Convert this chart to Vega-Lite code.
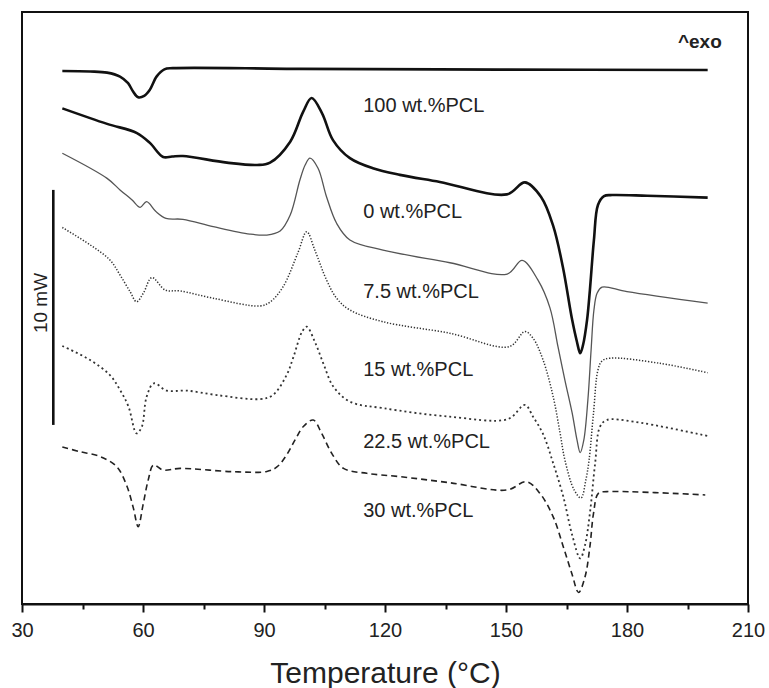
{
 "$schema": "https://vega.github.io/schema/vega-lite/v6.json",
 "width": 726, "height": 592,
 "autosize": {"type": "none"},
 "padding": {"left": 22, "top": 12, "right": 21, "bottom": 84},
 "background": "white",
 "config": {"view": {"stroke": "#111", "strokeWidth": 2}, "font": "Liberation Sans"},
 "datasets": {
  "c100": [{"T":40.0,"mW":22.68},{"T":46.9,"mW":22.66},{"T":51.1,"mW":22.61},{"T":54.3,"mW":22.44},{"T":56.3,"mW":22.16},{"T":57.5,"mW":21.82},{"T":58.8,"mW":21.56},{"T":60.3,"mW":21.62},{"T":61.7,"mW":21.88},{"T":63.4,"mW":22.45},{"T":65.3,"mW":22.75},{"T":67.4,"mW":22.80},{"T":98.9,"mW":22.77},{"T":148.5,"mW":22.74},{"T":200,"mW":22.72}],
  "c0": [{"T":40.0,"mW":21.09},{"T":51.1,"mW":20.43},{"T":58.5,"mW":20.04},{"T":61.7,"mW":19.62},{"T":65.0,"mW":19.02},{"T":67.2,"mW":19.04},{"T":69.9,"mW":19.06},{"T":80.8,"mW":18.78},{"T":88.3,"mW":18.68},{"T":91.5,"mW":18.78},{"T":96.5,"mW":19.67},{"T":99.7,"mW":20.94},{"T":101.8,"mW":21.53},{"T":104.4,"mW":20.88},{"T":107.1,"mW":19.74},{"T":111.3,"mW":18.97},{"T":117.0,"mW":18.54},{"T":123.7,"mW":18.26},{"T":133.6,"mW":17.96},{"T":150.2,"mW":17.43},{"T":154.7,"mW":17.94},{"T":158.7,"mW":17.32},{"T":161.7,"mW":16.09},{"T":164.1,"mW":14.34},{"T":166.4,"mW":12.09},{"T":167.6,"mW":11.15},{"T":168.4,"mW":10.67},{"T":169.1,"mW":11.02},{"T":170.1,"mW":12.09},{"T":170.8,"mW":13.36},{"T":171.8,"mW":15.49},{"T":172.8,"mW":16.98},{"T":174.3,"mW":17.36},{"T":176.3,"mW":17.40},{"T":185.0,"mW":17.37},{"T":200,"mW":17.29}],
  "c75": [{"T":40.0,"mW":19.18},{"T":51.1,"mW":18.11},{"T":54.3,"mW":17.62},{"T":57.3,"mW":17.19},{"T":59.3,"mW":16.88},{"T":60.9,"mW":17.12},{"T":63.2,"mW":16.70},{"T":65.7,"mW":16.41},{"T":69.9,"mW":16.37},{"T":77.4,"mW":16.06},{"T":86.5,"mW":15.74},{"T":90.7,"mW":15.70},{"T":94.0,"mW":15.87},{"T":96.5,"mW":16.55},{"T":98.9,"mW":18.04},{"T":100.2,"mW":18.68},{"T":101.4,"mW":18.97},{"T":103.4,"mW":18.54},{"T":105.5,"mW":17.33},{"T":108.0,"mW":16.20},{"T":111.3,"mW":15.49},{"T":119.5,"mW":15.06},{"T":136.1,"mW":14.52},{"T":150.3,"mW":14.04},{"T":154.0,"mW":14.62},{"T":157.9,"mW":13.79},{"T":160.9,"mW":12.60},{"T":162.9,"mW":10.94},{"T":164.6,"mW":9.53},{"T":166.4,"mW":8.13},{"T":167.6,"mW":6.98},{"T":168.4,"mW":6.44},{"T":169.3,"mW":6.98},{"T":170.3,"mW":8.68},{"T":171.1,"mW":10.81},{"T":171.8,"mW":12.51},{"T":172.6,"mW":13.23},{"T":173.8,"mW":13.48},{"T":180.0,"mW":13.29},{"T":200,"mW":12.80}],
  "c15": [{"T":40.0,"mW":16.02},{"T":46.9,"mW":15.28},{"T":51.8,"mW":14.64},{"T":54.3,"mW":14.00},{"T":56.8,"mW":13.29},{"T":58.4,"mW":12.86},{"T":60.1,"mW":13.23},{"T":62.2,"mW":13.89},{"T":65.5,"mW":13.36},{"T":69.2,"mW":13.32},{"T":77.4,"mW":13.01},{"T":89.0,"mW":12.68},{"T":91.5,"mW":12.85},{"T":94.7,"mW":13.49},{"T":98.4,"mW":14.94},{"T":100.6,"mW":15.84},{"T":102.6,"mW":15.06},{"T":105.5,"mW":13.79},{"T":108.0,"mW":13.01},{"T":111.3,"mW":12.51},{"T":119.5,"mW":12.01},{"T":136.1,"mW":11.52},{"T":150.8,"mW":10.95},{"T":154.7,"mW":11.59},{"T":156.7,"mW":11.31},{"T":159.2,"mW":10.38},{"T":161.7,"mW":8.82},{"T":163.4,"mW":7.28},{"T":164.6,"mW":6.13},{"T":166.9,"mW":4.85},{"T":168.6,"mW":4.51},{"T":169.8,"mW":5.28},{"T":170.6,"mW":6.13},{"T":171.7,"mW":8.13},{"T":172.8,"mW":9.96},{"T":173.8,"mW":10.34},{"T":175.8,"mW":10.46},{"T":188.2,"mW":10.24},{"T":200,"mW":9.84}],
  "c225": [{"T":40.0,"mW":10.98},{"T":46.9,"mW":10.38},{"T":51.8,"mW":9.74},{"T":54.3,"mW":9.11},{"T":56.4,"mW":8.40},{"T":58.4,"mW":7.26},{"T":59.7,"mW":7.54},{"T":60.9,"mW":8.82},{"T":62.7,"mW":9.39},{"T":65.9,"mW":9.08},{"T":70.8,"mW":9.08},{"T":78.3,"mW":8.89},{"T":89.0,"mW":8.72},{"T":92.2,"mW":8.89},{"T":95.6,"mW":9.74},{"T":97.3,"mW":10.51},{"T":99.4,"mW":11.57},{"T":100.6,"mW":11.80},{"T":102.6,"mW":11.16},{"T":104.7,"mW":10.24},{"T":107.2,"mW":9.25},{"T":111.3,"mW":8.61},{"T":119.6,"mW":8.33},{"T":136.1,"mW":7.97},{"T":150.5,"mW":7.87},{"T":154.7,"mW":8.47},{"T":156.7,"mW":7.97},{"T":159.2,"mW":7.23},{"T":161.7,"mW":5.99},{"T":164.2,"mW":4.57},{"T":166.4,"mW":2.94},{"T":168.4,"mW":1.94},{"T":169.6,"mW":2.51},{"T":170.8,"mW":3.86},{"T":172.1,"mW":5.99},{"T":173.3,"mW":7.54},{"T":175.0,"mW":7.83},{"T":181.6,"mW":7.76},{"T":200,"mW":7.15}],
  "c30": [{"T":40.0,"mW":6.68},{"T":44.4,"mW":6.48},{"T":49.3,"mW":6.28},{"T":53.5,"mW":5.84},{"T":56.0,"mW":5.02},{"T":57.6,"mW":4.09},{"T":58.8,"mW":3.29},{"T":60.0,"mW":4.21},{"T":61.3,"mW":5.28},{"T":62.6,"mW":5.91},{"T":65.0,"mW":5.70},{"T":69.2,"mW":5.77},{"T":82.3,"mW":5.63},{"T":90.7,"mW":5.64},{"T":93.2,"mW":5.83},{"T":95.6,"mW":6.34},{"T":97.7,"mW":6.98},{"T":99.7,"mW":7.54},{"T":102.2,"mW":7.83},{"T":104.3,"mW":7.26},{"T":106.8,"mW":6.41},{"T":109.7,"mW":5.77},{"T":115.5,"mW":5.56},{"T":123.7,"mW":5.42},{"T":136.1,"mW":5.16},{"T":150.2,"mW":4.85},{"T":155.1,"mW":5.20},{"T":158.4,"mW":4.71},{"T":161.7,"mW":3.71},{"T":164.2,"mW":2.44},{"T":166.3,"mW":1.31},{"T":168.0,"mW":0.49},{"T":169.6,"mW":1.16},{"T":170.8,"mW":2.44},{"T":171.7,"mW":3.86},{"T":172.9,"mW":4.71},{"T":175.0,"mW":4.78},{"T":199.4,"mW":4.64}],
  "labels": [{"T":114.6,"mW":20.95,"label":"100 wt.%PCL"},{"T":114.6,"mW":16.43,"label":"0 wt.%PCL"},{"T":114.6,"mW":13.03,"label":"7.5 wt.%PCL"},{"T":114.6,"mW":9.70,"label":"15 wt.%PCL"},{"T":114.6,"mW":6.64,"label":"22.5 wt.%PCL"},{"T":114.6,"mW":3.70,"label":"30 wt.%PCL"}],
  "bar": [{"T":37.76,"lo":7.62,"hi":17.62}],
  "barlabel": [{"T":36.1,"mW":12.81,"label":"10 mW"}],
  "exo": [{"T":203.5,"mW":23.66,"label":"^exo"}]
 },
 "resolve": {"axis": {"x": "independent"}},
 "layer": [
  {"data": {"name": "c100"}, "mark": {"type": "line", "interpolate": "catmull-rom", "color": "#111", "strokeWidth": 2.6},
   "encoding": {"x": {"field": "T", "type": "quantitative", "scale": {"domain": [30, 210], "nice": false, "zero": false},
     "axis": {"orient": "bottom", "values": [30, 60, 90, 120, 150, 180, 210], "title": "Temperature (°C)", "grid": false, "domain": true, "domainColor": "#111", "domainWidth": 2, "tickColor": "#111", "tickWidth": 2, "tickSize": 8, "labelFontSize": 20, "labelFont": "Liberation Sans", "labelColor": "#222", "labelPadding": 8, "labelFlush": false, "labelOverlap": false, "titleFont": "Liberation Sans", "titleFontSize": 30, "titleFontWeight": "normal", "titleColor": "#222", "titlePadding": 18}},
    "y": {"field": "mW", "type": "quantitative", "scale": {"domain": [0, 25.19], "nice": false, "zero": false}, "axis": null}}},
  {"data": {"name": "bar"}, "mark": {"type": "rule", "color": "#111", "strokeWidth": 2.6},
   "encoding": {"x": {"field": "T", "type": "quantitative", "scale": {"domain": [30, 210], "nice": false, "zero": false},
     "axis": {"orient": "bottom", "values": [45, 75, 105, 135, 165, 195], "labels": false, "title": null, "domain": false, "grid": false, "tickSize": 5, "tickWidth": 2, "tickColor": "#111"}},
    "y": {"field": "lo", "type": "quantitative", "scale": {"domain": [0, 25.19], "nice": false, "zero": false}, "axis": null},
    "y2": {"field": "hi"}}},
  {"data": {"name": "c0"}, "mark": {"type": "line", "interpolate": "catmull-rom", "color": "#111", "strokeWidth": 2.6},
   "encoding": {"x": {"field": "T", "type": "quantitative", "axis": null}, "y": {"field": "mW", "type": "quantitative", "axis": null}}},
  {"data": {"name": "c75"}, "mark": {"type": "line", "interpolate": "catmull-rom", "color": "#555", "strokeWidth": 1.3},
   "encoding": {"x": {"field": "T", "type": "quantitative", "axis": null}, "y": {"field": "mW", "type": "quantitative", "axis": null}}},
  {"data": {"name": "c15"}, "mark": {"type": "line", "interpolate": "catmull-rom", "color": "#333", "strokeWidth": 1.5, "strokeDash": [1.3, 1.7]},
   "encoding": {"x": {"field": "T", "type": "quantitative", "axis": null}, "y": {"field": "mW", "type": "quantitative", "axis": null}}},
  {"data": {"name": "c225"}, "mark": {"type": "line", "interpolate": "catmull-rom", "color": "#333", "strokeWidth": 1.8, "strokeDash": [2, 3]},
   "encoding": {"x": {"field": "T", "type": "quantitative", "axis": null}, "y": {"field": "mW", "type": "quantitative", "axis": null}}},
  {"data": {"name": "c30"}, "mark": {"type": "line", "interpolate": "catmull-rom", "color": "#222", "strokeWidth": 1.6, "strokeDash": [6, 4]},
   "encoding": {"x": {"field": "T", "type": "quantitative", "axis": null}, "y": {"field": "mW", "type": "quantitative", "axis": null}}},
  {"data": {"name": "labels"}, "mark": {"type": "text", "align": "left", "baseline": "alphabetic", "fontSize": 20, "font": "Liberation Sans", "color": "#222"},
   "encoding": {"x": {"field": "T", "type": "quantitative", "axis": null}, "y": {"field": "mW", "type": "quantitative", "axis": null}, "text": {"field": "label"}}},
  {"data": {"name": "barlabel"}, "mark": {"type": "text", "align": "center", "baseline": "alphabetic", "angle": 270, "fontSize": 19, "font": "Liberation Sans", "color": "#222"},
   "encoding": {"x": {"field": "T", "type": "quantitative", "axis": null}, "y": {"field": "mW", "type": "quantitative", "axis": null}, "text": {"field": "label"}}},
  {"data": {"name": "exo"}, "mark": {"type": "text", "align": "right", "baseline": "alphabetic", "fontSize": 19, "fontWeight": "bold", "font": "Liberation Sans", "color": "#222"},
   "encoding": {"x": {"field": "T", "type": "quantitative", "axis": null}, "y": {"field": "mW", "type": "quantitative", "axis": null}, "text": {"field": "label"}}}
 ]
}
